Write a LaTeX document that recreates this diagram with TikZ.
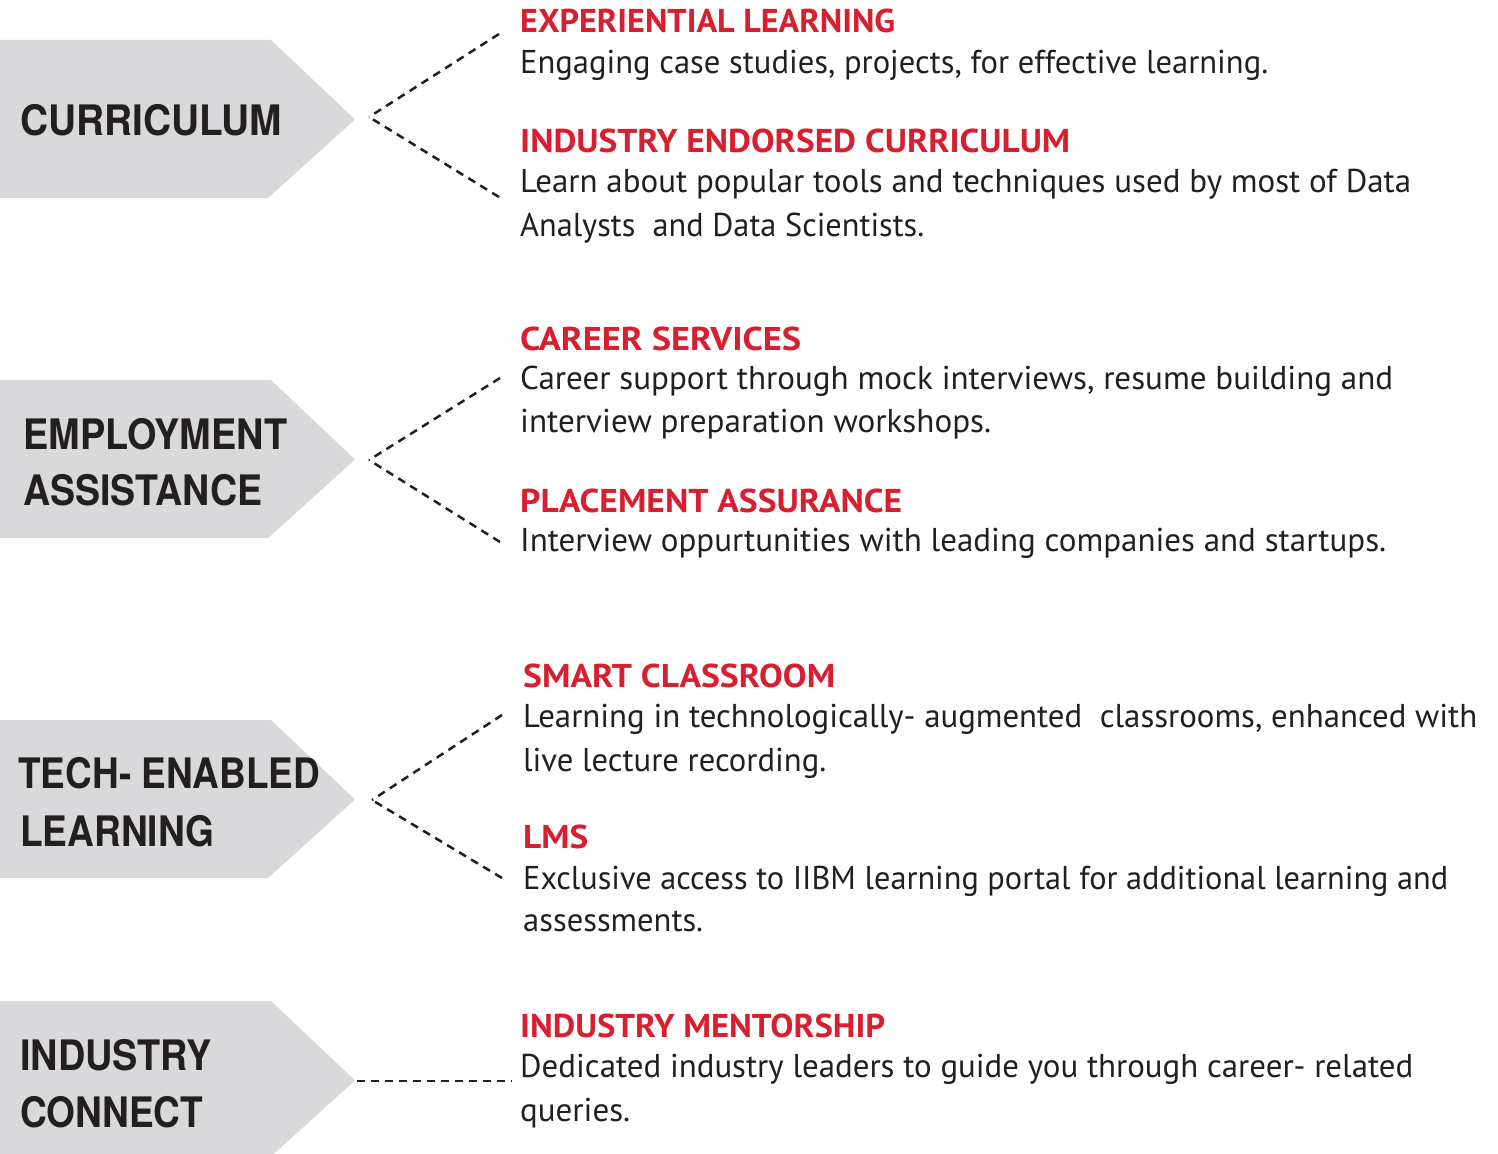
\documentclass[tikz,border=0pt]{standalone}
\usepackage{fontspec}
\usepackage{graphicx}
\setmainfont{PT Sans}
\newfontfamily\lblfont{TeX Gyre Heros}
\definecolor{arrowgray}{HTML}{D9D9DB}
\definecolor{hdrred}{HTML}{D71F2F}
\definecolor{inkblack}{HTML}{231F20}
\newcommand{\fitw}[2]{\resizebox{#1pt}{\height}{#2}}
\tikzset{
  lbl/.style={anchor=base west, inner sep=0pt, text=inkblack, font=\lblfont\bfseries\fontsize{42}{42}\selectfont},
  hdr/.style={anchor=base west, inner sep=0pt, text=hdrred, font=\bfseries\fontsize{33}{33}\selectfont},
  body/.style={anchor=base west, inner sep=0pt, text=inkblack, font=\fontsize{33}{33}\selectfont},
  conn/.style={draw=inkblack, line width=2.5pt, dash pattern=on 8pt off 6pt},
  arrowshape/.style={fill=arrowgray, draw=none}
}
\begin{document}
\begin{tikzpicture}[x=1pt,y=-1pt]
\useasboundingbox (0,0) rectangle (1498,1153);
\clip (0,0) rectangle (1498,1153);
\fill[white] (0,0) rectangle (1498,1153);
% arrow shapes
\foreach \t in {40,380,720,1001}{
  \path[arrowshape] (-5,\t) -- (271,\t) -- (355,\t+79.5) -- (268,\t+158) -- (-5,\t+158) -- cycle;
}
% left labels
\node[lbl] (l1) at (20,136) {\fitw{262}{CURRICULUM}};
\node[lbl] (l2a) at (23,449) {\fitw{264}{EMPLOYMENT}};
\node[lbl] (l2b) at (23,505) {\fitw{239}{ASSISTANCE}};
\node[lbl] (l3a) at (18,788) {\fitw{302}{TECH- ENABLED}};
\node[lbl] (l3b) at (20,846) {\fitw{194}{LEARNING}};
\node[lbl] (l4a) at (20,1070) {\fitw{192}{INDUSTRY}};
\node[lbl] (l4b) at (20,1127) {\fitw{183}{CONNECT}};
% right texts
\node[hdr] (h1) at (520,33) {\fitw{375}{EXPERIENTIAL LEARNING}};
\node[body] (b1) at (520,74) {\fitw{748}{Engaging case studies, projects, for effective learning.}};
\node[hdr] (h2) at (520,153) {\fitw{550}{INDUSTRY ENDORSED CURRICULUM}};
\node[body] (b2a) at (520,192) {\fitw{891}{Learn about popular tools and techniques used by most of Data}};
\node[body] (b2b) at (520,236) {\fitw{404}{Analysts\ \ and Data Scientists.}};
\node[hdr] (h3) at (520,350) {\fitw{281}{CAREER SERVICES}};
\node[body] (b3a) at (520,389) {\fitw{873}{Career support through mock interviews, resume building and}};
\node[body] (b3b) at (520,432) {\fitw{471}{interview preparation workshops.}};
\node[hdr] (h4) at (520,512) {\fitw{382}{PLACEMENT ASSURANCE}};
\node[body] (b4) at (520,551) {\fitw{866}{Interview oppurtunities with leading companies and startups.}};
\node[hdr] (h5) at (523,687) {\fitw{312}{SMART CLASSROOM}};
\node[body] (b5a) at (523,727) {\fitw{954}{Learning in technologically- augmented\ \ classrooms, enhanced with}};
\node[body] (b5b) at (523,771) {\fitw{303}{live lecture recording.}};
\node[hdr] (h6) at (523,848) {\fitw{65}{LMS}};
\node[body] (b6a) at (523,889) {\fitw{925}{Exclusive access to IIBM learning portal for additional learning and}};
\node[body] (b6b) at (523,931) {\fitw{180}{assessments.}};
\node[hdr] (h7) at (520,1037) {\fitw{365}{INDUSTRY MENTORSHIP}};
\node[body] (b7a) at (520,1077) {\fitw{893}{Dedicated industry leaders to guide you through career- related}};
\node[body] (b7b) at (520,1121) {\fitw{110}{queries.}};
% connectors
\coordinate (j1) at (369,117);
\coordinate (e1a) at (499,34);
\coordinate (e1b) at (499,197);
\coordinate (j2) at (369,460);
\coordinate (e2a) at (500,378);
\coordinate (e2b) at (500,542);
\coordinate (j3) at (372,800);
\coordinate (e3a) at (502,715);
\coordinate (e3b) at (502,878);
\coordinate (j4) at (357,1081);
\coordinate (e4) at (512,1081);
\draw[conn] (e1a) -- (j1);
\draw[conn] (e1b) -- (j1);
\draw[conn] (e2a) -- (j2);
\draw[conn] (e2b) -- (j2);
\draw[conn] (e3a) -- (j3);
\draw[conn] (e3b) -- (j3);
\draw[conn] (j4) -- (e4);
\end{tikzpicture}
\end{document}
